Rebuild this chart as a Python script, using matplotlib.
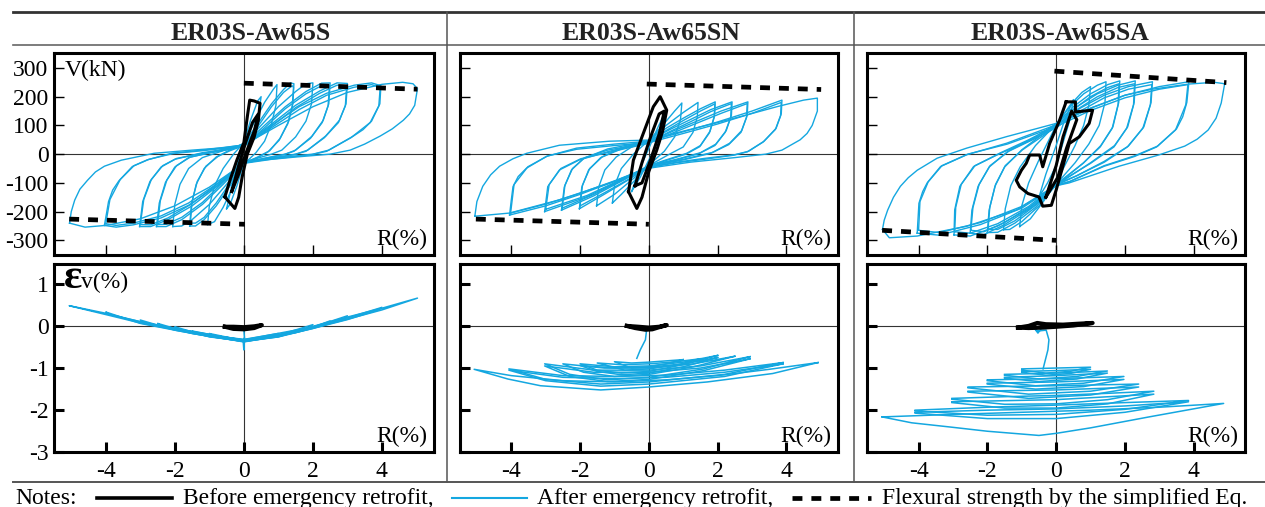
#!/usr/bin/env python3
"""Shear force / vertical strain vs drift hysteresis of three retrofitted walls."""

import matplotlib

matplotlib.use("Agg")
import matplotlib.pyplot as plt
from matplotlib.lines import Line2D

plt.rcParams["font.family"] = ["Liberation Serif", "DejaVu Serif"]
plt.rcParams["axes.unicode_minus"] = False

W, H = 1265, 507

SPECIMENS = ["ER03S-Aw65S", "ER03S-Aw65SN", "ER03S-Aw65SA"]
R_TICKS = [-4, -2, 0, 2, 4]
V_TICKS = [300, 200, 100, 0, -100, -200, -300]
EV_TICKS = [1, 0, -1, -2, -3]

BLUE = "#14a7e0"

# ---- V-R loops after emergency retrofit, (R %, V kN)
S_V_LOOPS = [
    [(-0.5, -190), (-0.35, -110), (-0.15, -20), (0, 40), (0.2, 120), (0.4, 185), (0.5, 200),
     (0.42, 130), (0.25, 50), (0, -30), (-0.2, -110), (-0.4, -175), (-0.5, -190)],
    [(-1.05, -245), (-1.0, -180), (-0.85, -110), (-0.6, -50), (-0.3, 0), (0, 40), (0.3, 110),
     (0.6, 180), (0.85, 225), (0.96, 242), (0.93, 170), (0.8, 105), (0.6, 45), (0.35, 5),
     (0, -35), (-0.3, -110), (-0.6, -185), (-0.85, -235), (-1.05, -245)],
    [(-1.57, -250), (-1.52, -175), (-1.38, -105), (-1.15, -50), (-0.8, -10), (-0.4, 15), (0, 38),
     (0.4, 105), (0.8, 175), (1.15, 225), (1.35, 248), (1.45, 245), (1.42, 175), (1.3, 115),
     (1.05, 55), (0.75, 12), (0.4, -10), (0, -32), (-0.4, -110), (-0.8, -180), (-1.15, -228),
     (-1.4, -250), (-1.57, -250)],
    [(-1.55, -240), (-1.5, -165), (-1.35, -95), (-1.1, -42), (-0.75, -8), (-0.4, 12), (0, 30),
     (0.4, 95), (0.8, 165), (1.15, 215), (1.4, 238), (1.44, 232), (1.4, 165), (1.27, 105),
     (1.02, 48), (0.7, 8), (0.4, -12), (0, -30), (-0.4, -100), (-0.8, -170), (-1.15, -220),
     (-1.4, -240), (-1.55, -240)],
    [(-2.06, -252), (-2.0, -175), (-1.85, -105), (-1.6, -50), (-1.2, -12), (-0.6, 12), (0, 35),
     (0.5, 100), (1.0, 165), (1.5, 218), (1.8, 245), (2.0, 248), (1.96, 175), (1.8, 115),
     (1.5, 60), (1.1, 14), (0.8, 0), (0.4, -14), (0, -30), (-0.5, -105), (-1.0, -175),
     (-1.5, -228), (-1.8, -250), (-2.06, -252)],
    [(-2.53, -252), (-2.45, -170), (-2.27, -98), (-2.0, -45), (-1.6, -12), (-0.9, 8), (0, 33),
     (0.6, 100), (1.2, 165), (1.8, 218), (2.25, 247), (2.5, 248), (2.46, 175), (2.3, 118),
     (1.97, 62), (1.5, 14), (1.2, 0), (0.6, -14), (0, -30), (-0.6, -105), (-1.2, -175),
     (-1.8, -228), (-2.25, -252), (-2.53, -252)],
    [(-2.5, -245), (-2.42, -162), (-2.23, -90), (-1.95, -40), (-1.55, -10), (-0.9, 6), (0, 28),
     (0.6, 92), (1.2, 158), (1.8, 210), (2.25, 238), (2.48, 238), (2.44, 168), (2.27, 110),
     (1.93, 55), (1.45, 10), (1.15, -2), (0.6, -15), (0, -28), (-0.6, -98), (-1.2, -168),
     (-1.8, -220), (-2.25, -244), (-2.5, -245)],
    [(-3.02, -252), (-2.93, -165), (-2.72, -95), (-2.4, -45), (-2.0, -18), (-1.2, 5), (-0.5, 18),
     (0, 32), (0.75, 100), (1.5, 170), (2.2, 220), (2.7, 248), (3.0, 246), (2.96, 175),
     (2.77, 118), (2.37, 63), (1.85, 14), (1.5, 0), (0.8, -14), (0, -30), (-0.75, -110),
     (-1.5, -180), (-2.2, -228), (-2.7, -252), (-3.02, -252)],
    [(-3.0, -245), (-2.9, -158), (-2.68, -88), (-2.35, -40), (-1.95, -15), (-1.2, 3), (-0.5, 15),
     (0, 28), (0.75, 92), (1.5, 162), (2.2, 212), (2.7, 240), (2.98, 238), (2.94, 168),
     (2.74, 110), (2.33, 57), (1.8, 10), (1.45, -2), (0.8, -15), (0, -28), (-0.75, -102),
     (-1.5, -172), (-2.2, -222), (-2.7, -246), (-3.0, -245)],
    [(-4.04, -248), (-3.97, -200), (-3.92, -165), (-3.8, -125), (-3.62, -93), (-3.23, -43),
     (-2.8, -20), (-2.1, 3), (-1.2, 14), (0, 32), (0.8, 100), (1.6, 165), (2.4, 212),
     (3.2, 240), (3.7, 248), (3.97, 238), (3.94, 175), (3.7, 115), (3.45, 85), (3.16, 62),
     (2.46, 14), (2.0, 0), (1.2, -10), (0.6, -18), (0, -31), (-0.8, -112), (-1.6, -178),
     (-2.4, -222), (-3.2, -246), (-3.7, -254), (-4.04, -248)],
    [(-4.0, -242), (-3.88, -158), (-3.58, -88), (-3.18, -40), (-2.75, -18), (-2.05, 2),
     (-1.2, 12), (0, 28), (0.8, 92), (1.6, 155), (2.4, 205), (3.2, 233), (3.7, 242),
     (3.95, 232), (3.91, 168), (3.66, 110), (3.1, 57), (2.4, 10), (1.95, -2), (1.2, -12),
     (0.6, -20), (0, -29), (-0.8, -105), (-1.6, -170), (-2.4, -215), (-3.2, -240),
     (-3.7, -248), (-4.0, -242)],
    [(-5.05, -240), (-5.0, -200), (-4.9, -160), (-4.75, -122), (-4.53, -91), (-4.3, -62),
     (-4.04, -42), (-3.55, -21), (-2.6, 3), (-1.5, 14), (-0.6, 22), (0, 32), (1.0, 100),
     (2.0, 165), (3.0, 215), (4.0, 243), (4.6, 250), (4.9, 245), (5.03, 228), (4.95, 170),
     (4.8, 140), (4.62, 118), (4.3, 88), (3.95, 63), (3.5, 35), (3.08, 14), (2.5, 0),
     (1.5, -10), (0.8, -18), (0, -32), (-1.0, -115), (-2.0, -180), (-3.0, -225),
     (-4.0, -248), (-4.6, -254), (-5.05, -240)],
]

SN_V_LOOPS = [
    [(-0.5, -130), (-0.3, -60), (0, 20), (0.25, 90), (0.45, 140), (0.35, 80), (0.15, 15),
     (0, -20), (-0.25, -80), (-0.5, -130)],
    [(-1.06, -170), (-1.0, -110), (-0.8, -50), (-0.45, 0), (0, 48), (0.4, 100), (0.75, 150),
     (0.96, 178), (0.92, 120), (0.75, 60), (0.45, 10), (0, -38), (-0.4, -90), (-0.8, -140),
     (-1.06, -170)],
    [(-1.52, -180), (-1.46, -115), (-1.28, -55), (-0.95, -10), (-0.5, 25), (0, 48), (0.5, 100),
     (1.0, 145), (1.43, 180), (1.41, 130), (1.28, 75), (1.0, 25), (0.6, 0), (0, -40),
     (-0.5, -90), (-1.0, -140), (-1.52, -180)],
    [(-2.02, -190), (-1.95, -115), (-1.75, -55), (-1.4, -12), (-0.8, 22), (0, 48), (0.5, 90),
     (1.0, 125), (1.5, 158), (1.93, 182), (1.91, 135), (1.78, 80), (1.5, 30), (1.1, 3),
     (0.5, -20), (0, -40), (-0.6, -90), (-1.3, -140), (-2.02, -190)],
    [(-2.0, -180), (-1.93, -108), (-1.72, -50), (-1.36, -10), (-0.8, 18), (0, 42), (0.5, 82),
     (1.0, 117), (1.5, 150), (1.92, 175), (1.9, 128), (1.76, 74), (1.48, 26), (1.08, 0),
     (0.5, -22), (0, -42), (-0.6, -88), (-1.3, -135), (-2.0, -180)],
    [(-2.54, -195), (-2.46, -115), (-2.25, -55), (-1.9, -15), (-1.2, 18), (0, 46), (0.6, 85),
     (1.2, 120), (1.8, 155), (2.42, 182), (2.4, 135), (2.25, 82), (1.95, 35), (1.5, 5),
     (0.8, -18), (0, -40), (-0.7, -88), (-1.6, -145), (-2.54, -195)],
    [(-2.52, -188), (-2.44, -108), (-2.22, -50), (-1.86, -12), (-1.2, 14), (0, 40), (0.6, 78),
     (1.2, 112), (1.8, 148), (2.4, 176), (2.38, 128), (2.22, 76), (1.92, 30), (1.46, 2),
     (0.8, -20), (0, -42), (-0.7, -86), (-1.6, -140), (-2.52, -188)],
    [(-3.03, -200), (-2.94, -113), (-2.6, -55), (-2.02, -20), (-1.15, 10), (0, 42), (0.7, 80),
     (1.4, 115), (2.1, 150), (2.88, 182), (2.86, 135), (2.7, 82), (2.35, 38), (1.85, 6),
     (1.0, -18), (0, -40), (-0.8, -90), (-1.8, -148), (-3.03, -200)],
    [(-3.0, -192), (-2.9, -106), (-2.56, -50), (-1.98, -16), (-1.1, 8), (0, 38), (0.7, 74),
     (1.4, 108), (2.1, 142), (2.86, 176), (2.84, 128), (2.68, 76), (2.32, 33), (1.8, 3),
     (1.0, -20), (0, -42), (-0.8, -88), (-1.8, -144), (-3.0, -192)],
    [(-4.05, -212), (-4.0, -160), (-3.95, -113), (-3.8, -78), (-3.56, -49), (-2.98, -8),
     (-2.1, 21), (-1.0, 35), (0, 45), (1.0, 78), (2.0, 112), (3.0, 150), (3.87, 188),
     (3.85, 140), (3.7, 90), (3.35, 45), (2.9, 10), (2.5, -2), (1.6, -15), (0.8, -28),
     (0, -45), (-1.0, -95), (-2.0, -140), (-3.0, -180), (-4.05, -212)],
    [(-4.02, -205), (-3.92, -106), (-3.52, -44), (-2.94, -6), (-2.1, 17), (-1.0, 30), (0, 40),
     (1.0, 72), (2.0, 105), (3.0, 142), (3.85, 180), (3.83, 134), (3.68, 86), (3.32, 42),
     (2.86, 8), (2.45, -4), (1.6, -18), (0.8, -30), (0, -46), (-1.0, -93), (-2.0, -136),
     (-3.0, -174), (-4.02, -205)],
    [(-5.06, -216), (-5.0, -165), (-4.83, -112), (-4.6, -72), (-4.34, -42), (-3.95, -16),
     (-3.55, 3), (-2.6, 31), (-1.15, 45), (0, 49), (1.0, 80), (2.0, 110), (2.8, 135),
     (3.75, 166), (4.5, 188), (4.9, 195), (4.9, 150), (4.75, 100), (4.6, 72), (4.4, 50),
     (3.87, 14), (3.4, 0), (2.5, -12), (1.2, -28), (0, -49), (-1.15, -101), (-2.6, -159),
     (-4.05, -205), (-5.06, -216)],
]

SA_V_LOOPS = [
    [(-0.5, -150), (-0.3, -70), (0, 30), (0.25, 120), (0.5, 190), (0.4, 120), (0.2, 40),
     (0, -40), (-0.25, -100), (-0.5, -150)],
    [(-1.06, -252), (-1.0, -180), (-0.8, -100), (-0.5, -20), (0, 100), (0.4, 170), (0.75, 215),
     (1.0, 235), (0.95, 170), (0.8, 100), (0.55, 30), (0.25, -40), (0, -100), (-0.4, -170),
     (-0.75, -225), (-1.06, -252)],
    [(-1.53, -263), (-1.48, -190), (-1.32, -110), (-1.05, -45), (-0.6, 30), (0, 105), (0.4, 165),
     (0.8, 210), (1.2, 240), (1.45, 252), (1.42, 180), (1.25, 100), (0.95, 35), (0.55, -30),
     (0, -105), (-0.5, -180), (-1.0, -235), (-1.35, -262), (-1.53, -263)],
    [(-2.0, -273), (-1.95, -195), (-1.78, -112), (-1.5, -45), (-1.0, 15), (0, 105), (0.5, 165),
     (1.0, 210), (1.5, 242), (1.85, 255), (1.82, 180), (1.65, 95), (1.3, 30), (0.8, -30),
     (0, -108), (-0.6, -185), (-1.2, -240), (-1.7, -272), (-2.0, -273)],
    [(-1.98, -262), (-1.93, -185), (-1.76, -105), (-1.48, -40), (-0.98, 15), (0, 95), (0.5, 155),
     (1.0, 200), (1.5, 232), (1.83, 245), (1.8, 172), (1.63, 90), (1.28, 25), (0.78, -32),
     (0, -105), (-0.6, -178), (-1.2, -232), (-1.7, -262), (-1.98, -262)],
    [(-2.5, -275), (-2.45, -195), (-2.27, -112), (-1.95, -45), (-1.4, 10), (-0.6, 60), (0, 105),
     (0.6, 165), (1.2, 210), (1.8, 240), (2.3, 255), (2.27, 180), (2.08, 95), (1.7, 30),
     (1.0, -30), (0, -108), (-0.7, -185), (-1.5, -245), (-2.1, -280), (-2.5, -275)],
    [(-2.48, -265), (-2.42, -186), (-2.24, -105), (-1.92, -40), (-1.38, 10), (-0.6, 55), (0, 96),
     (0.6, 155), (1.2, 200), (1.8, 232), (2.28, 245), (2.25, 172), (2.05, 90), (1.68, 25),
     (1.0, -32), (0, -105), (-0.7, -178), (-1.5, -238), (-2.1, -270), (-2.48, -265)],
    [(-2.97, -281), (-2.95, -194), (-2.8, -112), (-2.4, -43), (-1.63, 4), (-0.8, 50), (0, 100),
     (0.7, 160), (1.4, 205), (2.1, 235), (2.8, 252), (2.76, 180), (2.55, 95), (2.1, 28),
     (1.4, -25), (0.6, -75), (0, -108), (-0.8, -190), (-1.7, -250), (-2.5, -285), (-2.97, -281)],
    [(-2.95, -270), (-2.92, -185), (-2.76, -105), (-2.36, -40), (-1.6, 4), (-0.8, 45), (0, 92),
     (0.7, 150), (1.4, 196), (2.1, 226), (2.78, 242), (2.74, 172), (2.52, 90), (2.07, 25),
     (1.4, -28), (0.6, -75), (0, -105), (-0.8, -182), (-1.7, -242), (-2.5, -275), (-2.95, -270)],
    [(-4.04, -275), (-3.99, -171), (-3.88, -130), (-3.75, -100), (-3.36, -43), (-2.6, -2),
     (-1.44, 38), (0, 102), (1.0, 160), (2.0, 205), (3.0, 235), (3.86, 252), (3.8, 180),
     (3.68, 130), (3.5, 88), (2.95, 28), (2.3, -5), (1.4, -40), (0.4, -95), (0, -110),
     (-1.0, -188), (-2.2, -245), (-3.4, -282), (-4.04, -275)],
    [(-4.0, -265), (-3.96, -165), (-3.72, -96), (-3.32, -40), (-2.57, 0), (-1.42, 35), (0, 96),
     (1.0, 152), (2.0, 196), (3.0, 226), (3.83, 242), (3.77, 172), (3.47, 84), (2.92, 25),
     (2.28, -8), (1.4, -42), (0.4, -95), (0, -108), (-1.0, -182), (-2.2, -238), (-3.4, -273),
     (-4.0, -265)],
    [(-5.05, -262), (-5.0, -230), (-4.9, -195), (-4.73, -150), (-4.53, -112), (-4.3, -82),
     (-4.04, -56), (-3.46, -14), (-2.6, 21), (-1.44, 61), (0, 107), (1.0, 160), (2.0, 205),
     (2.8, 226), (3.86, 244), (4.6, 250), (4.9, 245), (4.8, 178), (4.65, 125), (4.42, 84),
     (4.1, 52), (3.74, 28), (2.98, -3), (1.83, -42), (0.38, -100), (0, -110), (-1.15, -194),
     (-2.6, -251), (-4.04, -285), (-4.85, -291), (-5.05, -262)],
]

# ---- V-R before emergency retrofit
S_V_BEFORE = [
    [(-0.55, -149), (-0.4, -90), (-0.2, -20), (0, 40), (0.1, 130), (0.17, 188), (0.3, 185),
     (0.47, 177), (0.42, 118), (0.3, 60), (0.1, 0), (-0.05, -80), (-0.15, -150), (-0.26, -189),
     (-0.55, -149)],
    [(-0.35, -130), (-0.15, -40), (0.05, 40), (0.25, 110), (0.42, 140), (0.3, 80), (0.05, 0),
     (-0.15, -70), (-0.35, -130)],
]
SN_V_BEFORE = [
    [(-0.59, -131), (-0.45, -21), (-0.2, 60), (0.13, 165), (0.33, 200), (0.52, 153), (0.4, 80),
     (0.23, 14), (0.0, -60), (-0.2, -150), (-0.35, -189), (-0.59, -131)],
    [(-0.4, -110), (-0.2, -30), (0.05, 60), (0.3, 140), (0.45, 150), (0.3, 70), (0.05, -20),
     (-0.2, -100), (-0.4, -110)],
]
SA_V_BEFORE = [
    [(0.29, 182), (0.56, 182), (0.56, 147), (1.06, 153), (0.96, 107), (0.67, 60), (0.38, 37),
     (0.19, -44), (0, -125), (-0.14, -178), (-0.39, -181), (-0.5, -149), (-0.82, -137),
     (-1.06, -114), (-1.16, -91), (-1.01, -56), (-0.87, -32), (-0.77, -3), (-0.48, -3),
     (-0.39, -44), (-0.19, 37), (0.1, 118), (0.29, 182)],
    [(-0.3, -150), (0, -40), (0.2, 60), (0.45, 150), (0.6, 120), (0.3, 20), (0.05, -80),
     (-0.3, -150)],
]

# ---- flexural strength by the simplified equation (R %, V kN)
S_FLEX = [[(0.0, 247), (5.03, 226)], [(-5.06, -226), (0.03, -244)]]
SN_FLEX = [[(-0.06, 244), (5.01, 225)], [(-5.03, -226), (0.0, -244)]]
SA_FLEX = [[(-0.05, 289), (4.95, 249)], [(-5.06, -265), (0.0, -300)]]

# ---- vertical strain - R after emergency retrofit, (R %, ev %)
S_EV_LOOPS = [
    [(0, -0.1), (0.02, -0.3), (0, -0.57), (-0.02, -0.35), (0, -0.3)],
    [(0, -0.32), (1, -0.18), (0.9, -0.23), (0, -0.35), (-1, -0.18), (-0.9, -0.23), (0, -0.32)],
    [(0, -0.33), (1.5, -0.1), (1.4, -0.16), (0, -0.36), (-1.5, -0.12), (-1.4, -0.17), (0, -0.33)],
    [(0, -0.33), (1, -0.22), (2, 0.03), (1.9, -0.04), (1, -0.26), (0, -0.36), (-1, -0.26),
     (-2, -0.02), (-1.9, -0.08), (-1, -0.22), (0, -0.33)],
    [(0, -0.34), (1, -0.22), (2, -0.03), (2.5, 0.12), (2.4, 0.05), (1.5, -0.16), (0, -0.37),
     (-1.5, -0.18), (-2.5, 0.06), (-2.4, 0.0), (-1.5, -0.14), (0, -0.34)],
    [(0, -0.34), (1, -0.22), (2, -0.03), (3, 0.24), (2.9, 0.16), (2, -0.06), (1, -0.26),
     (0, -0.37), (-1, -0.25), (-2, -0.1), (-3, 0.14), (-2.9, 0.07), (-2, -0.06), (-1, -0.22),
     (0, -0.34)],
    [(0, -0.35), (1, -0.22), (2, -0.02), (3, 0.19), (4, 0.44), (3.9, 0.38), (3, 0.15),
     (2, -0.06), (1, -0.25), (0, -0.37), (-1, -0.25), (-2, -0.1), (-3, 0.06), (-4, 0.33),
     (-3.9, 0.27), (-3, 0.1), (-2, -0.07), (-1, -0.21), (0, -0.35)],
    [(0, -0.36), (1, -0.21), (2, -0.01), (3, 0.21), (4, 0.42), (5.03, 0.66), (4, 0.38),
     (3, 0.16), (2, -0.05), (1, -0.24), (0, -0.38), (-1, -0.24), (-2, -0.09), (-3, 0.07),
     (-4, 0.27), (-5.06, 0.48), (-4, 0.3), (-3, 0.1), (-2, -0.06), (-1, -0.2), (0, -0.36)],
]

SN_EV_LOOPS = [
    [(-0.06, -0.06), (-0.1, -0.33), (-0.25, -0.57), (-0.35, -0.77)],
    [(1.0, -0.8), (0.5, -0.9), (0, -0.97), (-0.5, -1.0), (-1.0, -0.85), (-0.5, -0.88),
     (0, -0.86), (0.5, -0.83), (1.0, -0.8)],
    [(1.5, -0.78), (0.8, -0.93), (0, -1.02), (-0.7, -1.05), (-1.5, -0.88), (-0.8, -0.92),
     (0, -0.9), (0.8, -0.85), (1.5, -0.78)],
    [(2.0, -0.7), (1.0, -0.92), (0, -1.08), (-0.8, -1.12), (-1.5, -1.05), (-2.0, -0.9),
     (-1.0, -0.97), (0, -0.95), (1.0, -0.86), (2.0, -0.7)],
    [(2.0, -0.75), (1.0, -0.97), (0, -1.12), (-0.8, -1.16), (-1.5, -1.08), (-2.0, -0.94),
     (-1.0, -1.0), (0, -0.98), (1.0, -0.9), (2.0, -0.75)],
    [(2.5, -0.72), (1.3, -0.97), (0, -1.15), (-1.0, -1.2), (-1.9, -1.1), (-2.5, -0.9),
     (-1.3, -1.0), (0, -1.0), (1.3, -0.9), (2.5, -0.72)],
    [(2.94, -0.73), (1.6, -1.02), (0, -1.22), (-1.2, -1.28), (-2.3, -1.15), (-3.03, -0.9),
     (-1.6, -1.05), (0, -1.05), (1.5, -0.95), (2.94, -0.73)],
    [(2.94, -0.78), (1.6, -1.06), (0, -1.27), (-1.2, -1.32), (-2.3, -1.2), (-3.03, -0.95),
     (-1.6, -1.1), (0, -1.1), (1.5, -1.0), (2.94, -0.78)],
    [(3.9, -0.87), (2.2, -1.15), (0, -1.33), (-1.4, -1.38), (-3.0, -1.27), (-4.07, -1.02),
     (-2.5, -1.18), (-1.0, -1.2), (0.5, -1.17), (2.2, -1.05), (3.9, -0.87)],
    [(3.9, -0.9), (2.2, -1.2), (0, -1.38), (-1.4, -1.43), (-3.0, -1.3), (-4.07, -1.05),
     (-2.5, -1.22), (-1.0, -1.25), (0.5, -1.22), (2.2, -1.1), (3.9, -0.9)],
    [(4.92, -0.87), (3.6, -1.13), (1.7, -1.33), (0, -1.45), (-1.4, -1.52), (-3.15, -1.42),
     (-4.1, -1.26), (-5.08, -1.03), (-4, -1.18), (-2.5, -1.3), (-1, -1.33), (0.5, -1.28),
     (2, -1.18), (3.5, -1.03), (4.92, -0.87)],
]

SA_EV_LOOPS = [
    [(-0.1, -0.05), (-0.43, -0.06), (-0.53, -0.17), (-0.63, -0.06), (-0.53, -0.12),
     (-0.29, -0.1), (-0.21, -0.33), (-0.24, -0.57), (-0.34, -0.89), (-0.38, -1.02)],
    [(-1.0, -1.02), (0, -1.0), (1.0, -0.98), (0.4, -1.08), (-0.3, -1.12), (-1.0, -1.05)],
    [(-1.0, -1.08), (0, -1.06), (1.0, -1.03), (0.4, -1.13), (-0.3, -1.17), (-1.0, -1.1)],
    [(-1.5, -1.15), (0, -1.12), (1.49, -1.07), (0.6, -1.2), (-0.5, -1.26), (-1.5, -1.17)],
    [(-1.5, -1.22), (0, -1.18), (1.49, -1.12), (0.6, -1.26), (-0.5, -1.32), (-1.5, -1.24)],
    [(-2.0, -1.28), (0, -1.25), (1.97, -1.2), (0.8, -1.36), (-0.6, -1.42), (-2.0, -1.3)],
    [(-2.0, -1.36), (0, -1.33), (1.97, -1.27), (0.8, -1.44), (-0.6, -1.5), (-2.0, -1.38)],
    [(-2.56, -1.45), (0, -1.42), (2.4, -1.38), (1.0, -1.55), (-0.8, -1.62), (-2.56, -1.47)],
    [(-2.56, -1.55), (0, -1.52), (2.4, -1.45), (1.0, -1.64), (-0.8, -1.72), (-2.56, -1.57)],
    [(-3.03, -1.72), (-1.5, -1.68), (0, -1.65), (1.5, -1.6), (2.84, -1.55), (1.5, -1.75),
     (0, -1.85), (-1.5, -1.86), (-3.03, -1.74)],
    [(-3.03, -1.8), (0, -1.75), (2.84, -1.62), (1.5, -1.85), (0, -1.95), (-1.5, -1.95),
     (-3.03, -1.82)],
    [(-4.1, -2.0), (-2, -1.93), (0, -1.88), (2, -1.82), (3.85, -1.77), (2, -1.98), (0, -2.1),
     (-2, -2.12), (-4.1, -2.02)],
    [(-4.1, -2.05), (-2, -2.0), (0, -1.97), (2, -1.9), (3.85, -1.8), (2, -2.05), (0, -2.2),
     (-2, -2.2), (-4.1, -2.07)],
    [(-5.06, -2.16), (-3, -2.1), (-1, -2.05), (1, -2.0), (3, -1.93), (4.87, -1.84), (2.7, -2.16),
     (1, -2.42), (0, -2.55), (-0.5, -2.6), (-2.0, -2.5), (-3.08, -2.4), (-4.2, -2.3),
     (-5.06, -2.16)],
]

# ---- vertical strain before emergency retrofit
S_EV_BEFORE = [(-0.55, -0.02), (-0.3, -0.02), (0, -0.03), (0.3, -0.01), (0.52, 0.02),
               (0.3, -0.05), (0, -0.08), (-0.3, -0.07), (-0.55, -0.02)]
SN_EV_BEFORE = [(-0.64, 0.0), (-0.4, -0.05), (-0.1, -0.09), (0.1, -0.08), (0.3, -0.03),
                (0.52, 0.02), (0.3, -0.02), (0, -0.04), (-0.3, -0.02), (-0.64, 0.0)]
SA_EV_BEFORE = [(-1.11, -0.04), (-0.8, -0.05), (-0.4, -0.04), (0, -0.02), (0.5, 0.01),
                (1.06, 0.07), (0.6, 0.05), (0.2, 0.03), (-0.3, 0.04), (-0.55, 0.07),
                (-0.8, 0.0), (-1.11, -0.04)]

COL_X = [(54, 433.7), (459.7, 838), (867, 1245.3)]
ROW_Y = [(53, 255.3), (264, 452.3)]
TITLE_X = [251, 651, 1060]

FLEX_STYLE = dict(color="black", linewidth=3.4, linestyle=(0, (2.1, 1.9)), solid_capstyle="butt")


def px_box(x0, x1, y0, y1):
    return [x0 / W, 1 - y1 / H, (x1 - x0) / W, (y1 - y0) / H]


def draw_curves(ax, loops, **kw):
    for loop in loops:
        r, v = zip(*loop)
        ax.plot(r, v, solid_joinstyle="round", **kw)


def style_axes(ax, row, col):
    ax.set_xlim(-5.5, 5.5)
    ax.set_xticks(R_TICKS)
    if row == 0:
        ax.set_ylim(-352, 352)
        ax.set_yticks(V_TICKS)
        width = 1.0
    else:
        ax.set_ylim(-3.0, 1.47)
        ax.set_yticks(EV_TICKS)
        width = 2.2
    ax.tick_params(direction="in", length=7, width=width, labelsize=17, pad=4)
    ax.tick_params(axis="x", pad=6)
    if row == 0:
        ax.set_xticklabels([])
    else:
        ax.set_xticklabels([str(t) for t in R_TICKS])
    if col == 0:
        ax.set_yticklabels([str(t) for t in (V_TICKS if row == 0 else EV_TICKS)])
    else:
        ax.set_yticklabels([])
    for sp in ax.spines.values():
        sp.set_linewidth(2.2)
    ax.axhline(0, color="#333333", linewidth=0.8, zorder=1)
    ax.axvline(0, color="#333333", linewidth=0.8, zorder=1)
    ax.text(0.982, 0.053 if row == 0 else 0.056, "R(%)", transform=ax.transAxes,
            ha="right", va="baseline", fontsize=17)


def main() -> None:
    fig = plt.figure(figsize=(W / 100, H / 100), dpi=100)

    v_loops = [S_V_LOOPS, SN_V_LOOPS, SA_V_LOOPS]
    v_before = [S_V_BEFORE, SN_V_BEFORE, SA_V_BEFORE]
    flex = [S_FLEX, SN_FLEX, SA_FLEX]
    ev_loops = [S_EV_LOOPS, SN_EV_LOOPS, SA_EV_LOOPS]
    ev_before = [S_EV_BEFORE, SN_EV_BEFORE, SA_EV_BEFORE]

    for col in range(3):
        x0, x1 = COL_X[col]

        ax = fig.add_axes(px_box(x0, x1, *ROW_Y[0]))
        style_axes(ax, 0, col)
        draw_curves(ax, v_loops[col], color=BLUE, linewidth=1.0, zorder=2)
        draw_curves(ax, v_before[col], color="black", linewidth=2.2, zorder=3)
        draw_curves(ax, flex[col], zorder=4, **FLEX_STYLE)
        if col == 0:
            ax.text(0.029, 0.886, "V(kN)", transform=ax.transAxes, ha="left",
                    va="baseline", fontsize=17)

        ax = fig.add_axes(px_box(x0, x1, *ROW_Y[1]))
        style_axes(ax, 1, col)
        draw_curves(ax, ev_loops[col], color=BLUE, linewidth=1.1, zorder=2)
        draw_curves(ax, [ev_before[col]], color="black", linewidth=3.0, zorder=3)
        if col == 0:
            ax.text(0.027, 0.872, "ε", transform=ax.transAxes, ha="left",
                    va="baseline", fontsize=31, fontweight="bold")
            ax.text(0.070, 0.875, "v(%)", transform=ax.transAxes, ha="left",
                    va="baseline", fontsize=17)

        fig.text(TITLE_X[col] / W, 1 - 40 / H, SPECIMENS[col], ha="center",
                 va="baseline", fontsize=18.5, fontweight="bold", color="#222222")

    # table frame
    def hline(y, lw, color):
        fig.add_artist(Line2D([13 / W, 1], [1 - y / H] * 2, color=color, linewidth=lw))

    def vline(x, lw, color):
        fig.add_artist(Line2D([x / W] * 2, [1 - 12 / H, 1 - 482 / H], color=color, linewidth=lw))

    hline(12, 2.0, "#333333")
    hline(45, 1.2, "#666666")
    hline(482, 1.4, "#555555")
    vline(446.5, 1.1, "#555555")
    vline(854, 1.1, "#555555")

    # notes row
    ly = 1 - 498.3 / H
    ty = 1 - 504 / H
    fig.text(15 / W, ty, "Notes:", fontsize=17, va="baseline")
    fig.add_artist(Line2D([97 / W, 172 / W], [ly, ly], color="black", linewidth=2.6))
    fig.text(183 / W, ty, "Before emergency retrofit,", fontsize=17, va="baseline")
    fig.add_artist(Line2D([452 / W, 527 / W], [ly, ly], color=BLUE, linewidth=1.5))
    fig.text(537 / W, ty, "After emergency retrofit,", fontsize=17, va="baseline")
    fig.add_artist(Line2D([792 / W, 871 / W], [ly, ly], **FLEX_STYLE))
    fig.text(882 / W, ty, "Flexural strength by the simplified Eq.", fontsize=17, va="baseline")

    fig.savefig("out.png", dpi=100)


if __name__ == "__main__":
    main()
